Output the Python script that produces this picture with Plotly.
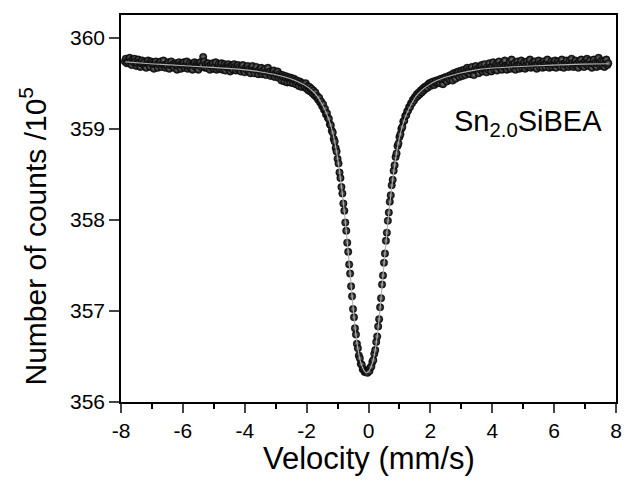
import numpy as np
import plotly.graph_objects as go

# ---- data (counts / 10^5), 501 channels, velocity step 0.03125 mm/s ----
channel_step = 0.03125
first_channel = -252

left_wing = [
    359.74, 359.77, 359.72, 359.75, 359.73, 359.78, 359.74, 359.70, 359.76, 359.73,
    359.77, 359.74, 359.69, 359.72, 359.76, 359.73, 359.68, 359.72, 359.75, 359.71,
    359.73, 359.69, 359.67, 359.72, 359.75, 359.71, 359.68, 359.74, 359.72, 359.70,
    359.66, 359.71, 359.74, 359.70, 359.67, 359.72, 359.70, 359.74, 359.68, 359.71,
    359.75, 359.70, 359.67, 359.71, 359.69, 359.73, 359.66, 359.70, 359.74, 359.69,
    359.71, 359.67, 359.72, 359.70, 359.65, 359.69, 359.73, 359.70, 359.66, 359.71,
    359.69, 359.73, 359.67, 359.70, 359.74, 359.66, 359.69, 359.72, 359.67, 359.70,
    359.65, 359.70, 359.73, 359.68, 359.71, 359.69, 359.65, 359.70, 359.73, 359.68,
    359.70, 359.79, 359.74, 359.67, 359.71, 359.67, 359.72, 359.69, 359.65, 359.70,
    359.68, 359.72, 359.66, 359.69, 359.73, 359.65, 359.68, 359.71, 359.66, 359.69,
    359.72, 359.65, 359.68, 359.71, 359.64, 359.69, 359.67, 359.71, 359.68, 359.63,
    359.67, 359.70, 359.65, 359.71, 359.68, 359.64, 359.67, 359.70, 359.65, 359.68,
    359.63, 359.67, 359.70, 359.64, 359.62, 359.67, 359.65, 359.69, 359.63, 359.66,
    359.61, 359.66, 359.69, 359.64, 359.61, 359.65, 359.68, 359.63, 359.60, 359.65,
    359.63, 359.67, 359.60, 359.64, 359.62, 359.66, 359.59, 359.63, 359.67, 359.61,
    359.63, 359.58, 359.62, 359.60, 359.64, 359.57, 359.61, 359.59, 359.63, 359.56,
    359.60, 359.58, 359.53, 359.59, 359.57, 359.52, 359.58, 359.56, 359.51, 359.57,
    359.55, 359.51, 359.56, 359.54, 359.50, 359.55, 359.53, 359.49, 359.53, 359.51,
    359.47, 359.52, 359.50, 359.46, 359.50, 359.48,
]

dip_left = [
    359.46, 359.50, 359.44, 359.47, 359.42, 359.46, 359.41, 359.44, 359.39, 359.42,
    359.37, 359.40, 359.35, 359.36, 359.32, 359.34, 359.29, 359.30, 359.25, 359.27,
    359.21, 359.22, 359.16, 359.17, 359.12, 359.11, 359.05, 359.04, 358.98, 358.96,
    358.89, 358.86, 358.79, 358.75, 358.67, 358.62, 358.52, 358.46, 358.36, 358.29,
    358.18, 358.10, 357.97, 357.88, 357.75, 357.65, 357.51, 357.41, 357.27, 357.16,
    357.02, 356.93, 356.81, 356.74, 356.64, 356.59, 356.51, 356.48, 356.42, 356.41,
    356.36, 356.36, 356.33, 356.34,
]

dip_center = [356.33]

dip_right = [
    356.32, 356.35, 356.34, 356.38, 356.39, 356.44, 356.46, 356.53, 356.57, 356.66,
    356.72, 356.83, 356.91, 357.04, 357.14, 357.29, 357.39, 357.53, 357.63, 357.77,
    357.86, 357.99, 358.08, 358.20, 358.27, 358.38, 358.44, 358.54, 358.60, 358.69,
    358.73, 358.81, 358.84, 358.91, 358.94, 359.00, 359.02, 359.08, 359.09, 359.14,
    359.15, 359.19, 359.20, 359.24, 359.24, 359.28, 359.28, 359.32, 359.31, 359.35,
    359.34, 359.38, 359.36, 359.40, 359.38, 359.42, 359.40, 359.44, 359.42, 359.46,
    359.44, 359.47, 359.45, 359.49,
]

right_wing = [
    359.50, 359.47, 359.51, 359.49, 359.52, 359.48, 359.51, 359.53, 359.50, 359.52,
    359.54, 359.50, 359.55, 359.53, 359.49, 359.56, 359.54, 359.57, 359.52, 359.56,
    359.58, 359.54, 359.59, 359.57, 359.53, 359.61, 359.58, 359.55, 359.62, 359.59,
    359.63, 359.57, 359.61, 359.64, 359.58, 359.62, 359.65, 359.59, 359.63, 359.67,
    359.61, 359.65, 359.60, 359.64, 359.68, 359.62, 359.59, 359.65, 359.69, 359.64,
    359.66, 359.61, 359.68, 359.65, 359.70, 359.63, 359.66, 359.71, 359.65, 359.62,
    359.68, 359.65, 359.72, 359.67, 359.63, 359.69, 359.73, 359.65, 359.68, 359.71,
    359.64, 359.69, 359.74, 359.67, 359.70, 359.65, 359.72, 359.68, 359.75, 359.69,
    359.65, 359.70, 359.68, 359.73, 359.66, 359.76, 359.70, 359.67, 359.72, 359.65,
    359.69, 359.74, 359.70, 359.66, 359.71, 359.75, 359.67, 359.70, 359.73, 359.66,
    359.70, 359.74, 359.68, 359.71, 359.76, 359.67, 359.70, 359.73, 359.68, 359.74,
    359.70, 359.66, 359.71, 359.75, 359.68, 359.72, 359.70, 359.67, 359.74, 359.71,
    359.68, 359.72, 359.76, 359.70, 359.67, 359.71, 359.74, 359.68, 359.72, 359.70,
    359.75, 359.67, 359.71, 359.74, 359.70, 359.72, 359.68, 359.76, 359.71, 359.67,
    359.72, 359.70, 359.75, 359.71, 359.68, 359.74, 359.70, 359.77, 359.72, 359.68,
    359.71, 359.75, 359.69, 359.72, 359.67, 359.74, 359.71, 359.76, 359.69, 359.72,
    359.68, 359.74, 359.71, 359.77, 359.72, 359.69, 359.75, 359.71, 359.67, 359.72,
    359.76, 359.70, 359.73, 359.68, 359.72, 359.78, 359.72, 359.69, 359.75, 359.70,
    359.74, 359.68, 359.72, 359.76, 359.70, 359.72,
]

fit_velocity = [
    -7.86, -7.06, -6.06, -5.06, -4.06, -3.56, -3.06, -2.56, -2.26, -2.06,
    -1.86, -1.66, -1.51, -1.36, -1.26, -1.16, -1.06, -0.96, -0.86, -0.76,
    -0.66, -0.56, -0.46, -0.36, -0.26, -0.16, -0.11, -0.06, -0.01, 0.04,
    0.14, 0.24, 0.34, 0.44, 0.54, 0.64, 0.74, 0.84, 0.94, 1.04,
    1.14, 1.24, 1.39, 1.54, 1.74, 1.94, 2.14, 2.44, 2.94, 3.44,
    3.94, 4.94, 5.94, 6.94, 7.75,
]
fit_counts = [
    359.735, 359.715, 359.695, 359.675, 359.650, 359.630, 359.600, 359.555, 359.515, 359.480,
    359.430, 359.360, 359.275, 359.170, 359.080, 358.960, 358.800, 358.590, 358.330, 358.020,
    357.660, 357.280, 356.900, 356.620, 356.445, 356.355, 356.330, 356.320, 356.330, 356.355,
    356.445, 356.620, 356.900, 357.280, 357.660, 358.020, 358.330, 358.590, 358.800, 358.960,
    359.080, 359.170, 359.275, 359.360, 359.430, 359.480, 359.520, 359.560, 359.610, 359.645,
    359.665, 359.685, 359.700, 359.710, 359.715,
]

x_ticks = [-8, -6, -4, -2, 0, 2, 4, 6, 8]
x_tick_labels = ["-8", "-6", "-4", "-2", "0", "2", "4", "6", "8"]
y_ticks = [356, 357, 358, 359, 360]

counts = left_wing + dip_left + dip_center + dip_right + right_wing
velocity = channel_step * (first_channel + np.arange(len(counts)))

FONT = "Liberation Sans, Arial, sans-serif"

fig = go.Figure()
fig.add_trace(go.Scatter(
    x=velocity, y=counts, mode="markers",
    marker=dict(size=7.5, color="#000000",
                gradient=dict(type="radial", color="#808080"),
                line=dict(width=0.4, color="#111111")),
    showlegend=False,
))
fig.add_trace(go.Scatter(
    x=fit_velocity, y=fit_counts, mode="lines",
    line=dict(color="#b0b0b0", width=1.1, shape="spline", smoothing=0.6),
    showlegend=False,
))

fig.update_layout(
    width=634, height=481,
    margin=dict(l=121, r=16, t=15, b=79),
    paper_bgcolor="white", plot_bgcolor="white",
    font=dict(family=FONT, color="black", size=21),
    xaxis=dict(range=[-8, 8], tickvals=x_ticks, ticktext=x_tick_labels,
               ticks="outside", ticklen=9,
               tickwidth=1.5, linewidth=1.5, linecolor="black", mirror=True,
               showgrid=False, zeroline=False,
               minor=dict(dtick=1, tick0=-7, ticks="outside", ticklen=5,
                          tickwidth=1.5, tickcolor="black", showgrid=False),
               tickfont=dict(size=21)),
    yaxis=dict(range=[356, 360.25], tickvals=y_ticks, ticks="outside", ticklen=10,
               tickwidth=1.5, linewidth=1.5, linecolor="black", mirror=True,
               showgrid=False, zeroline=False, tickfont=dict(size=21)),
    annotations=[
        dict(text="Velocity (mm/s)", xref="paper", yref="paper", x=0.5, y=-0.145,
             xanchor="center", yanchor="middle", showarrow=False,
             font=dict(size=31, family=FONT)),
        dict(text="Number of counts /10<sup>5</sup>", xref="paper", yref="paper",
             x=-0.178, y=0.43, xanchor="center", yanchor="middle", textangle=-90,
             showarrow=False, font=dict(size=30, family=FONT)),
        dict(text="Sn<sub>2.0</sub>SiBEA", xref="paper", yref="paper",
             x=0.975, y=0.72, xanchor="right", yanchor="middle", showarrow=False,
             font=dict(size=29, family=FONT)),
    ],
)

fig.write_html("out.html", config={"displayModeBar": False},
               post_script="document.body.style.margin='0';")
